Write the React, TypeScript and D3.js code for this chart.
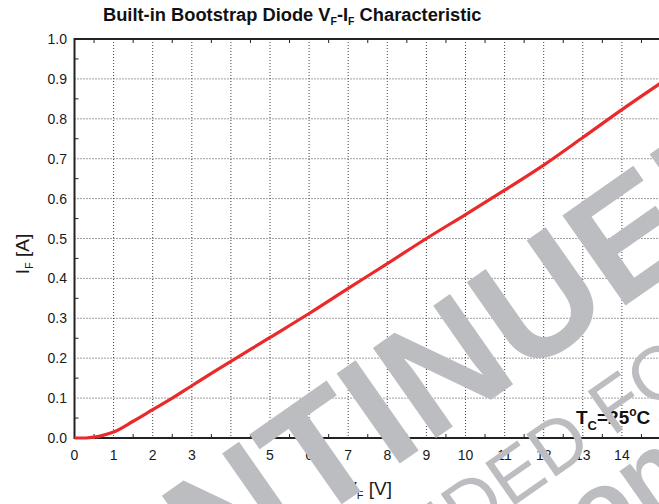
import React from 'react';
import * as d3 from 'd3';

// forward voltage [V] and forward current [A]
const vfValues = [0, 0.3, 0.5, 0.7, 1, 1.5, 2, 2.5, 3, 3.5, 4, 4.5, 5, 6, 7, 8, 9, 10, 11, 12, 13, 14, 15];
const ifValues = [0, 0, 0.002, 0.006, 0.015, 0.042, 0.071, 0.1, 0.131, 0.162, 0.192, 0.222, 0.252, 0.312, 0.375, 0.437, 0.5, 0.56, 0.621, 0.684, 0.753, 0.823, 0.89];

const xTicks = d3.range(0, 16);
const yTicks = d3.range(0, 11).map(i => i / 10);
const xMinor = d3.range(0, 15).map(i => i + 0.5);
const yMinor = d3.range(0, 10).map(i => i / 10 + 0.05);

const W = 659;
const H = 504;
const FONT = '"Liberation Sans", Arial, sans-serif';
const WM = '#bcbdc0';

const App: React.FC = () => {
  const x = d3.scaleLinear().domain([0, 15]).range([74.5, 661]);
  const y = d3.scaleLinear().domain([0, 1]).range([438, 39]);

  const pts = vfValues.map((v, i) => [v, ifValues[i]] as [number, number]);
  const line = d3.line<[number, number]>()
    .x(d => x(d[0]))
    .y(d => y(d[1]))
    .curve(d3.curveMonotoneX);

  return (
    <svg width={W} height={H} style={{ position: 'absolute', left: 0, top: 0, background: '#fff' }} fontFamily={FONT}>
      {/* title */}
      <text x={103} y={21} fontSize={18.3} fontWeight="bold" fill="#111">
        Built-in Bootstrap Diode V<tspan fontSize={10.5} dy={4}>F</tspan>
        <tspan dy={-4}>-I</tspan><tspan fontSize={10.5} dy={4}>F</tspan>
        <tspan dy={-4}> Characteristic</tspan>
      </text>

      {/* grid */}
      {xTicks.filter(t => t > 0 && t < 15).map(t => (
        <line key={'gx' + t} x1={x(t)} x2={x(t)} y1={y(1)} y2={y(0)} stroke="#444" strokeWidth={1} strokeDasharray="1,2" />
      ))}
      {yTicks.filter(t => t > 0 && t < 1).map(t => (
        <line key={'gy' + t} x1={x(0)} x2={x(15)} y1={y(t)} y2={y(t)} stroke="#444" strokeWidth={1} strokeDasharray="1,2" />
      ))}

      {/* minor ticks inside */}
      {xMinor.map(t => (
        <g key={'mx' + t}>
          <line x1={x(t)} x2={x(t)} y1={y(0)} y2={y(0) - 4} stroke="#222" />
          <line x1={x(t)} x2={x(t)} y1={y(1)} y2={y(1) + 4} stroke="#222" />
        </g>
      ))}
      {yMinor.map(t => (
        <line key={'my' + t} x1={x(0)} x2={x(0) + 4} y1={y(t)} y2={y(t)} stroke="#222" />
      ))}

      {/* frame */}
      <line x1={x(0)} x2={x(15)} y1={y(1)} y2={y(1)} stroke="#222" strokeWidth={2} />
      <line x1={x(0)} x2={x(15)} y1={y(0)} y2={y(0)} stroke="#222" strokeWidth={2} />
      <line x1={x(0)} x2={x(0)} y1={y(1) - 1} y2={y(0) + 1} stroke="#222" strokeWidth={2} />
      <line x1={x(15)} x2={x(15)} y1={y(1)} y2={y(0)} stroke="#222" strokeWidth={2} />

      {/* tick labels */}
      {yTicks.map(t => (
        <text key={'ly' + t} x={67} y={y(t)} dy="0.36em" textAnchor="end" fontSize={14} fill="#1a1a1a">
          {t.toFixed(1)}
        </text>
      ))}
      {xTicks.map(t => (
        <text key={'lx' + t} x={x(t)} y={460} textAnchor="middle" fontSize={14} fill="#1a1a1a">
          {t}
        </text>
      ))}

      {/* axis titles */}
      <text transform={`translate(29,254) rotate(-90)`} textAnchor="middle" fontSize={19} fill="#1a1a1a">
        I<tspan fontSize={11} dy={4}>F</tspan><tspan dy={-4}> [A]</tspan>
      </text>
      <text x={368} y={495} textAnchor="middle" fontSize={19} fill="#1a1a1a">
        V<tspan fontSize={11} dy={4}>F</tspan><tspan dy={-4}> [V]</tspan>
      </text>

      {/* curve */}
      <path d={line(pts) || ''} fill="none" stroke="#ea2a2a" strokeWidth={3.2} />

      {/* condition */}
      <text x={576} y={424} fontSize={19} fontWeight="bold" fill="#111">
        T<tspan fontSize={13} dy={6}>C</tspan><tspan dy={-6}>=25</tspan>
        <tspan fontSize={12} dy={-8}>o</tspan><tspan dy={8}>C</tspan>
      </text>

      {/* watermark */}
      <g transform="translate(522,378) rotate(-35)" fill={WM}>
        <text x={-5.5 * 160} y={0} fontSize={160} fontWeight="bold">DISCONTINUED</text>
        <text x={-585} y={100} fontSize={75}>RECOMMENDED FOR</text>
        <text x={-495} y={185} fontSize={100} fontWeight="bold">BACKUP only</text>
      </g>
    </svg>
  );
};

export default App;
